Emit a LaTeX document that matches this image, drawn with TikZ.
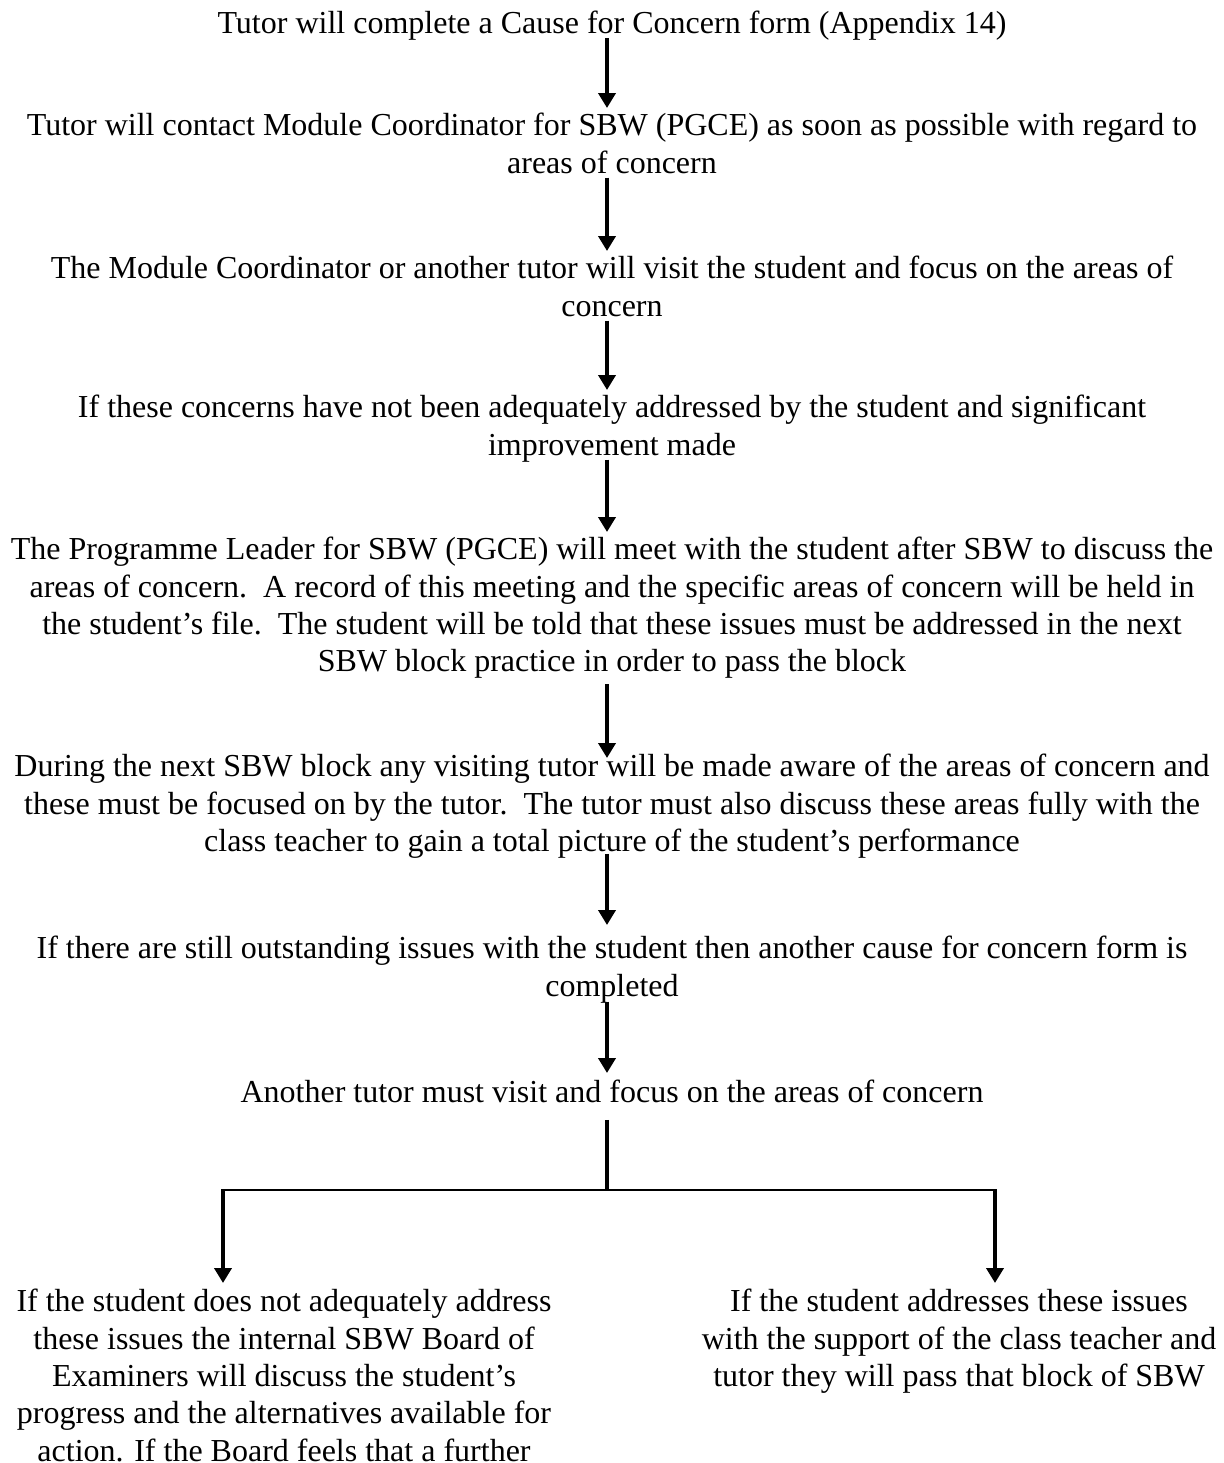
\documentclass[tikz,border=0pt]{standalone}
\usepackage{fontspec}
\setmainfont{Liberation Serif}
\usetikzlibrary{arrows.meta}
\begin{document}
\begin{tikzpicture}[x=0.5pt,y=-0.5pt,
  txt/.style={anchor=north, inner sep=0pt, align=center,
    font=\fontsize{16pt}{18.65pt}\selectfont,
    execute at begin node=\strut, execute at end node=\strut},
  arr/.style={line width=2.1pt, -{Triangle[width=8.5pt,length=7.5pt]}},
  thickline/.style={line width=2.1pt},
  thinline/.style={line width=1pt}]
\useasboundingbox (0,0) rectangle (1224,1463);
\coordinate (spine) at (607,0);
\node[txt] (n1) at (612,6.9) {Tutor will complete a Cause for Concern form (Appendix 14)};
\node[txt] (n2) at (612,112.9) {Tutor will contact Module Coordinator for SBW (PGCE) as soon as possible with regard to\\ areas of concern};
\node[txt] (n3) at (612,255.9) {The Module Coordinator or another tutor will visit the student and focus on the areas of\\ concern};
\node[txt] (n4) at (612,394.9) {If these concerns have not been adequately addressed by the student and significant\\ improvement made};
\node[txt] (n5) at (612,536.9) {The Programme Leader for SBW (PGCE) will meet with the student after SBW to discuss the\\ areas of concern.\ \ A record of this meeting and the specific areas of concern will be held in\\ the student’s file.\ \ The student will be told that these issues must be addressed in the next\\ SBW block practice in order to pass the block};
\node[txt] (n6) at (612,753.9) {During the next SBW block any visiting tutor will be made aware of the areas of concern and\\ these must be focused on by the tutor.\ \ The tutor must also discuss these areas fully with the\\ class teacher to gain a total picture of the student’s performance};
\node[txt] (n7) at (612,935.9) {If there are still outstanding issues with the student then another cause for concern form is\\ completed};
\node[txt] (n8) at (612,1075.9) {Another tutor must visit and focus on the areas of concern};
\node[txt] (nl) at (284,1288.9) {If the student does not adequately address\\ these issues the internal SBW Board of\\ Examiners will discuss the student’s\\ progress and the alternatives available for\\ action. If the Board feels that a further};
\node[txt] (nr) at (959,1288.9) {If the student addresses these issues\\ with the support of the class teacher and\\ tutor they will pass that block of SBW};
\coordinate (jc) at (607,1190);
\coordinate (jl) at (223,1190);
\coordinate (jr) at (995,1190);

\draw[arr, shorten <=-3.6pt, shorten >=2.45pt] (n1.south -| spine) -- (n2.north -| spine);
\draw[arr, shorten <=-3.6pt, shorten >=2.45pt] (n2.south -| spine) -- (n3.north -| spine);
\draw[arr, shorten <=-3.6pt, shorten >=2.45pt] (n3.south -| spine) -- (n4.north -| spine);
\draw[arr, shorten <=-3.6pt, shorten >=2.45pt] (n4.south -| spine) -- (n5.north -| spine);
\draw[arr, shorten <=0.4pt, shorten >=-2.05pt] (n5.south -| spine) -- (n6.north -| spine);
\draw[arr, shorten <=-4.6pt, shorten >=5.45pt] (n6.south -| spine) -- (n7.north -| spine);
\draw[arr, shorten <=-3.1pt, shorten >=1.45pt] (n7.south -| spine) -- (n8.north -| spine);
\draw[thickline, shorten <=2.9pt] (n8.south -| spine) -- (jc);
\draw[thinline] ([xshift=-1pt]jl) -- ([xshift=1pt]jr);
\draw[arr, shorten >=2.95pt] (jl) -- (nl.north -| jl);
\draw[arr, shorten >=2.95pt] (jr) -- (nr.north -| jr);
\end{tikzpicture}
\end{document}
